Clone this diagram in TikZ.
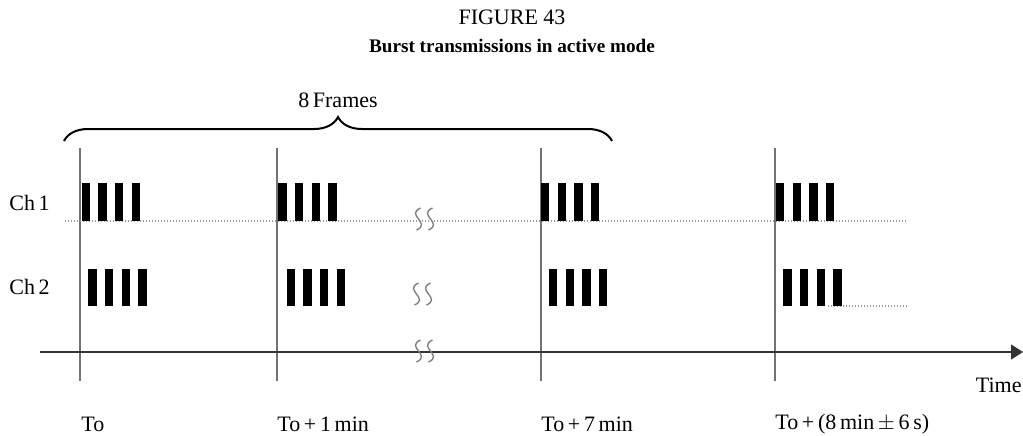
\documentclass[tikz,border=0pt]{standalone}
\usepackage{fontspec}
\setmainfont{Liberation Serif}
\usetikzlibrary{arrows.meta,decorations.pathreplacing}
\tikzset{
  lbl/.style    = {inner sep=0pt, font=\fontsize{11}{13}\selectfont},
  ttl/.style    = {inner sep=0pt, font=\fontsize{9.6}{12}\selectfont\bfseries},
  tmark/.style  = {draw=black!55, line width=0.6pt},
  chline/.style = {draw=black!40, line width=0.7pt, dash pattern=on 0.6pt off 0.9pt},
  burst/.style  = {fill=black},
  brk/.style    = {draw=black!50, line width=0.7pt},
  axis/.style   = {draw=black!80, line width=0.6pt, -{Triangle[length=6pt,width=7.5pt]}},
  brc/.style    = {draw=black, line width=1pt, decorate,
                   decoration={brace, amplitude=12pt}},
}
\newcommand{\brkmark}[2]{%
  \draw[brk] (#1+2.5,#2-11) .. controls (#1-13,#2-4) and (#1+14,#2+4) .. (#1-1.5,#2+11);
  \draw[brk] (#1+14.5,#2-11) .. controls (#1-1,#2-4) and (#1+26,#2+4) .. (#1+10.5,#2+11);
}

\begin{document}
\begin{tikzpicture}[x=0.5pt, y=-0.5pt]
  \useasboundingbox (0,0) rectangle (1023,435);
  \node[lbl] (fig) at (512,17) {FIGURE 43};
  \node[ttl] (title) at (512,46) {Burst transmissions in active mode};

  \coordinate (brL) at (64,141);
  \coordinate (brR) at (612,141);
  \draw[brc] (brL) -- (brR);
  \node[lbl] (frames) at (338,100) {8\,Frames};

  \foreach \x/\n in {80/a, 277/b, 541/c, 775/d} {
    \coordinate (\n top) at (\x,148);
    \coordinate (\n bot) at (\x,381);
    \draw[tmark] (\n top) -- (\n bot);
  }

  \node[lbl, anchor=west] (ch1) at (9,203) {Ch\,1};
  \node[lbl, anchor=west] (ch2) at (9,287) {Ch\,2};

  \coordinate (c1L) at (65,221);
  \coordinate (c1R) at (907,221);
  \coordinate (c2L) at (828,306);
  \coordinate (c2R) at (907,306);
  \draw[chline] (c1L) -- (c1R);
  \draw[chline] (c2L) -- (c2R);

  \foreach \x in {81.7, 278.3, 541, 776}
    \foreach \i in {0,...,3}
      \fill[burst] (\x+\i*16.7,183) rectangle ++(8.3,38);
  \foreach \x in {88.3, 286.7, 549, 783.3}
    \foreach \i in {0,...,3}
      \fill[burst] (\x+\i*16.7,268.5) rectangle ++(8.3,37.5);

  \coordinate (axL) at (40,352);
  \coordinate (axR) at (1023,352);
  \draw[axis] (axL) -- (axR);

  \brkmark{418}{219}
  \brkmark{416}{294}
  \brkmark{418}{351}

  \node[lbl, anchor=east] (tlbl) at (1022,385) {Time};
  \node[lbl, anchor=west] (t0) at (81,424) {To};
  \node[lbl, anchor=west] (t1) at (277,424) {To\,+\,1\,min};
  \node[lbl, anchor=west] (t7) at (541,424) {To\,+\,7\,min};
  \node[lbl, anchor=west] (t8) at (775,424) {To\,+\,(8\,min\,$\pm$\,6\,s)};
\end{tikzpicture}
\end{document}
